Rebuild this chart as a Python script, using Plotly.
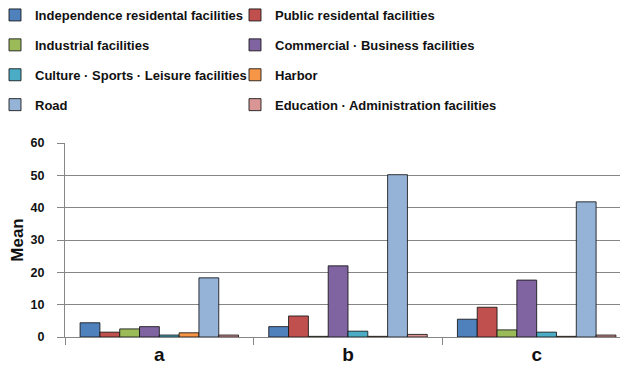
import plotly.graph_objects as go

categories = ["a", "b", "c"]
series_names = [
    "Independence residental facilities",
    "Public residental facilities",
    "Industrial facilities",
    "Commercial · Business facilities",
    "Culture · Sports · Leisure facilities",
    "Harbor",
    "Road",
    "Education · Administration facilities",
]
independence = [4.4, 3.2, 5.5]
public = [1.5, 6.5, 9.2]
industrial = [2.5, 0.2, 2.2]
commercial = [3.2, 22.0, 17.6]
culture = [0.6, 1.8, 1.5]
harbor = [1.3, 0.2, 0.2]
road = [18.3, 50.2, 41.8]
education = [0.6, 0.8, 0.6]
series_values = [independence, public, industrial, commercial, culture, harbor, road, education]
colors = ["#4F81BD", "#C0504D", "#9BBB59", "#8064A2", "#4BACC6", "#F79646", "#95B3D7", "#D99694"]
y_ticks = [0, 10, 20, 30, 40, 50, 60]

FONT = "Liberation Sans, Arial, sans-serif"

fig = go.Figure()
for i, (name, vals, col) in enumerate(zip(series_names, series_values, colors)):
    fig.add_trace(go.Bar(
        x=categories, y=vals, name=name,
        marker=dict(color=col, line=dict(color="rgba(20,20,20,0.85)", width=1)),
        legend="legend" if i % 2 == 0 else "legend2",
        legendgroup=name,
    ))

legend_common = dict(
    orientation="v", xref="paper", yref="paper",
    yanchor="top", tracegroupgap=10, bgcolor="rgba(0,0,0,0)",
    font=dict(family=FONT, size=13, color="#111", weight="bold"),
    itemclick=False, itemdoubleclick=False,
)

PW = 566.0
PH = 194.0

fig.update_layout(
    width=628, height=371,
    margin=dict(l=57, r=5, t=135, b=42, autoexpand=False),
    paper_bgcolor="white", plot_bgcolor="white",
    barmode="group", bargap=0.16, bargroupgap=0,
    font=dict(family=FONT, color="#111"),
    legend=dict(x=(-13 - 57) / PW, y=1 + 143 / PH, xanchor="left", **legend_common),
    legend2=dict(x=(227 - 57) / PW, y=1 + 143 / PH, xanchor="left", **legend_common),
    xaxis=dict(
        type="category", tickson="boundaries", ticks="outside", ticklen=7,
        tickcolor="#868686", showline=True, linecolor="#868686", linewidth=1,
        showgrid=False, tickfont=dict(size=19, family=FONT, weight="bold"),
    ),
    yaxis=dict(
        range=[0, 60], tickvals=y_ticks, ticks="outside", ticklen=7, tickcolor="#868686",
        ticklabelstandoff=10,
        showline=True, linecolor="#868686", linewidth=1, mirror=True,
        gridcolor="#868686", gridwidth=1, zeroline=False,
        tickfont=dict(size=12.5, family=FONT, weight="bold"),
        title=dict(text="<b>Mean</b>", font=dict(size=17), standoff=2),
    ),
)

fig.write_html("out.html")
